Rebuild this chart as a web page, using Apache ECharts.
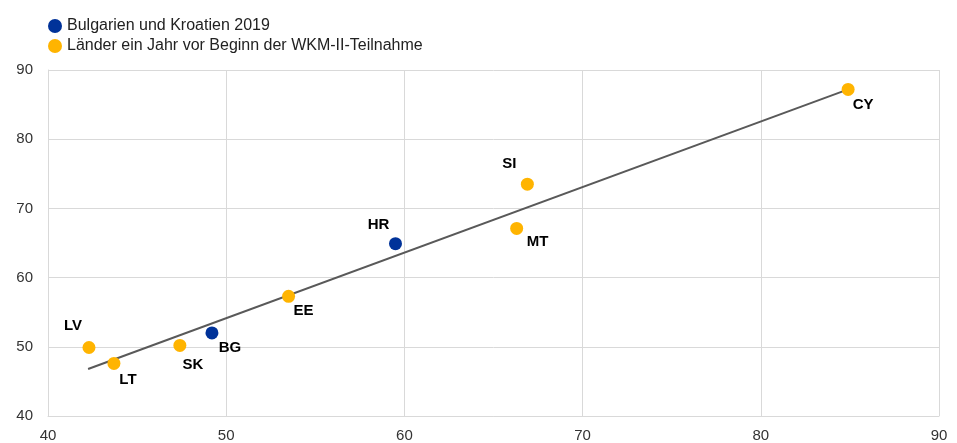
<!DOCTYPE html>
<html><head><meta charset="utf-8">
<script src="https://cdn.jsdelivr.net/npm/echarts@6/dist/echarts.min.js"></script>
<style>html,body{margin:0;padding:0;background:#fff}#c{width:957px;height:443px}</style>
</head><body><div id="c"></div>
<script>
// Data
const blueNames = ["BG", "HR"];
const blueX = [49.2, 59.5];
const blueY = [52.0, 64.9];
const yellowNames = ["LV", "LT", "SK", "EE", "MT", "SI", "CY"];
const yellowX = [42.3, 43.7, 47.4, 53.5, 66.3, 66.9, 84.9];
const yellowY = [49.9, 47.6, 50.2, 57.3, 67.1, 73.5, 87.2];
const trendX = [42.25, 84.9];
const trendY = [46.8, 87.2];
const seriesNames = ["Bulgarien und Kroatien 2019", "Länder ein Jahr vor Beginn der WKM-II-Teilnahme"];

// label offsets (style)
const labelOffsets = {
  LV: [-16, -22], LT: [14, 16], SK: [13, 19], BG: [18, 15], EE: [15, 15],
  HR: [-17, -19], MT: [21, 13], SI: [-18, -20], CY: [15, 15]
};

function pts(names, xs, ys) {
  return names.map((n, i) => ({
    value: [xs[i], ys[i]], name: n,
    label: { offset: labelOffsets[n] }
  }));
}

const font = "Liberation Sans, Arial, sans-serif";
const chart = echarts.init(document.getElementById('c'));
const labelCfg = {
  show: true, position: 'inside', formatter: p => p.name,
  fontFamily: font, fontSize: 15, fontWeight: 'bold', color: '#000'
};
chart.setOption({
  animation: false,
  textStyle: { fontFamily: font },
  grid: { left: 48, right: 18, top: 70, bottom: 25 },
  legend: {
    orient: 'vertical', left: 43, top: 13, itemGap: 4,
    itemWidth: 14, itemHeight: 14, icon: 'circle',
    textStyle: { fontFamily: font, fontSize: 16, color: '#222' },
    data: seriesNames
  },
  xAxis: {
    type: 'value', min: 40, max: 90, interval: 10,
    axisLine: { show: true, lineStyle: { color: '#d9d9d9' } },
    axisTick: { show: false },
    splitLine: { show: true, lineStyle: { color: '#d9d9d9' } },
    axisLabel: { fontFamily: font, fontSize: 15, color: '#333', margin: 12 }
  },
  yAxis: {
    type: 'value', min: 40, max: 90, interval: 10,
    axisLine: { show: true, lineStyle: { color: '#d9d9d9' } },
    axisTick: { show: false },
    splitLine: { show: true, lineStyle: { color: '#d9d9d9' } },
    axisLabel: { fontFamily: font, fontSize: 15, color: '#333', margin: 15 }
  },
  series: [
    {
      name: 'trend', type: 'line', data: trendX.map((x, i) => [x, trendY[i]]),
      symbol: 'none', lineStyle: { color: '#595959', width: 2 }, z: 1, silent: true
    },
    {
      name: seriesNames[0], type: 'scatter', symbolSize: 13,
      itemStyle: { color: '#003299', opacity: 1 },
      data: pts(blueNames, blueX, blueY), label: labelCfg, z: 3
    },
    {
      name: seriesNames[1], type: 'scatter', symbolSize: 13,
      itemStyle: { color: '#FFB400', opacity: 1 },
      data: pts(yellowNames, yellowX, yellowY), label: labelCfg, z: 2
    }
  ]
});
</script></body></html>
